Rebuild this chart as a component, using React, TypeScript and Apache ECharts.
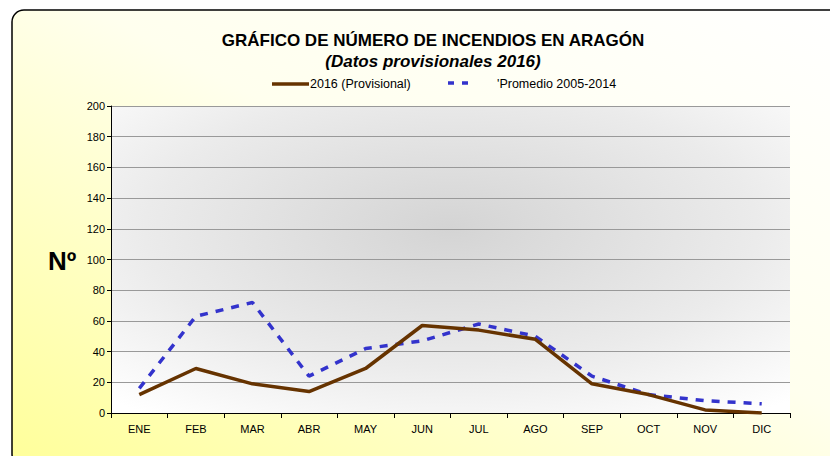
import React, { useEffect, useRef } from "react";
import * as echarts from "echarts";

const months = ["ENE", "FEB", "MAR", "ABR", "MAY", "JUN", "JUL", "AGO", "SEP", "OCT", "NOV", "DIC"];
const values2016 = [12, 29, 19, 14, 29, 57, 54, 48, 19, 12, 2, 0];
const promedio = [16, 63, 72, 24, 42, 47, 58, 50, 24, 12, 8, 6];
const titleText = "GRÁFICO DE NÚMERO DE INCENDIOS EN ARAGÓN";
const subtitleText = "(Datos provisionales 2016)";
const name2016 = "2016 (Provisional)";
const namePromedio = "Promedio 2005-2014";

export default function App() {
  const ref = useRef<HTMLDivElement>(null);
  useEffect(() => {
    if (!ref.current) return;
    const chart = echarts.init(ref.current, null, { renderer: "svg" });
    const font = "Liberation Sans, Arial, sans-serif";
    chart.setOption({
      animation: false,
      textStyle: { fontFamily: font },
      graphic: [
        {
          type: "rect",
          z: -10,
          shape: { x: 12, y: 10, width: 840, height: 456, r: 12 },
          style: {
            fill: new echarts.graphic.LinearGradient(0, 1, 1, 0, [
              { offset: 0, color: "#ffff99" },
              { offset: 0.55, color: "#ffffee" },
              { offset: 1, color: "#ffffff" },
            ]),
            stroke: "#000",
            lineWidth: 1.5,
          },
        },
        {
          type: "text",
          x: 433,
          y: 40,
          style: { text: titleText, font: `bold 17px ${font}`, fill: "#000", align: "center", verticalAlign: "middle" },
        },
        {
          type: "text",
          x: 433,
          y: 61,
          style: { text: subtitleText, font: `italic bold 17px ${font}`, fill: "#000", align: "center", verticalAlign: "middle" },
        },
        {
          type: "line",
          shape: { x1: 272, y1: 84, x2: 309, y2: 84 },
          style: { stroke: "#663300", lineWidth: 3.5 },
        },
        {
          type: "text",
          x: 310,
          y: 84,
          style: { text: name2016, font: `12.5px ${font}`, fill: "#000", verticalAlign: "middle" },
        },
        {
          type: "line",
          shape: { x1: 448, y1: 83, x2: 472, y2: 83 },
          style: { stroke: "#3333cc", lineWidth: 3.5, lineDash: [6, 8] },
        },
        {
          type: "text",
          x: 497,
          y: 84,
          style: { text: "'" + namePromedio, font: `12.5px ${font}`, fill: "#000", verticalAlign: "middle" },
        },
        {
          type: "text",
          x: 48,
          y: 261,
          style: { text: "Nº", font: `bold 26px ${font}`, fill: "#000", verticalAlign: "middle" },
        },
      ],
      grid: {
        left: 111,
        right: 40,
        top: 106,
        bottom: 43,
        show: true,
        borderWidth: 0,
        backgroundColor: new echarts.graphic.RadialGradient(0.5, 0.4, 0.75, [
          { offset: 0, color: "#d4d4d4" },
          { offset: 0.6, color: "#ebebeb" },
          { offset: 1, color: "#ffffff" },
        ]),
      },
      xAxis: {
        type: "category",
        data: months,
        boundaryGap: true,
        axisLine: { lineStyle: { color: "#000", width: 1 } },
        axisTick: { show: true, lineStyle: { color: "#000" }, length: 5 },
        axisLabel: { color: "#000", fontSize: 11, margin: 10, fontFamily: font },
        splitLine: { show: false },
      },
      yAxis: {
        type: "value",
        min: 0,
        max: 200,
        interval: 20,
        axisLine: { show: true, lineStyle: { color: "#000", width: 1 } },
        axisTick: { show: true, lineStyle: { color: "#000" }, length: 4 },
        axisLabel: { color: "#000", fontSize: 11, margin: 6, fontFamily: font },
        splitLine: { show: true, lineStyle: { color: "#999", width: 1 } },
      },
      series: [
        {
          name: namePromedio,
          type: "line",
          data: promedio,
          symbol: "none",
          lineStyle: { color: "#3333cc", width: 3.5, type: [8, 8] },
          z: 2,
        },
        {
          name: name2016,
          type: "line",
          data: values2016,
          symbol: "none",
          lineStyle: { color: "#663300", width: 3.5 },
          z: 3,
        },
      ],
    });
    return () => chart.dispose();
  }, []);
  return <div ref={ref} style={{ width: 830, height: 456, position: "absolute", left: 0, top: 0 }} />;
}
